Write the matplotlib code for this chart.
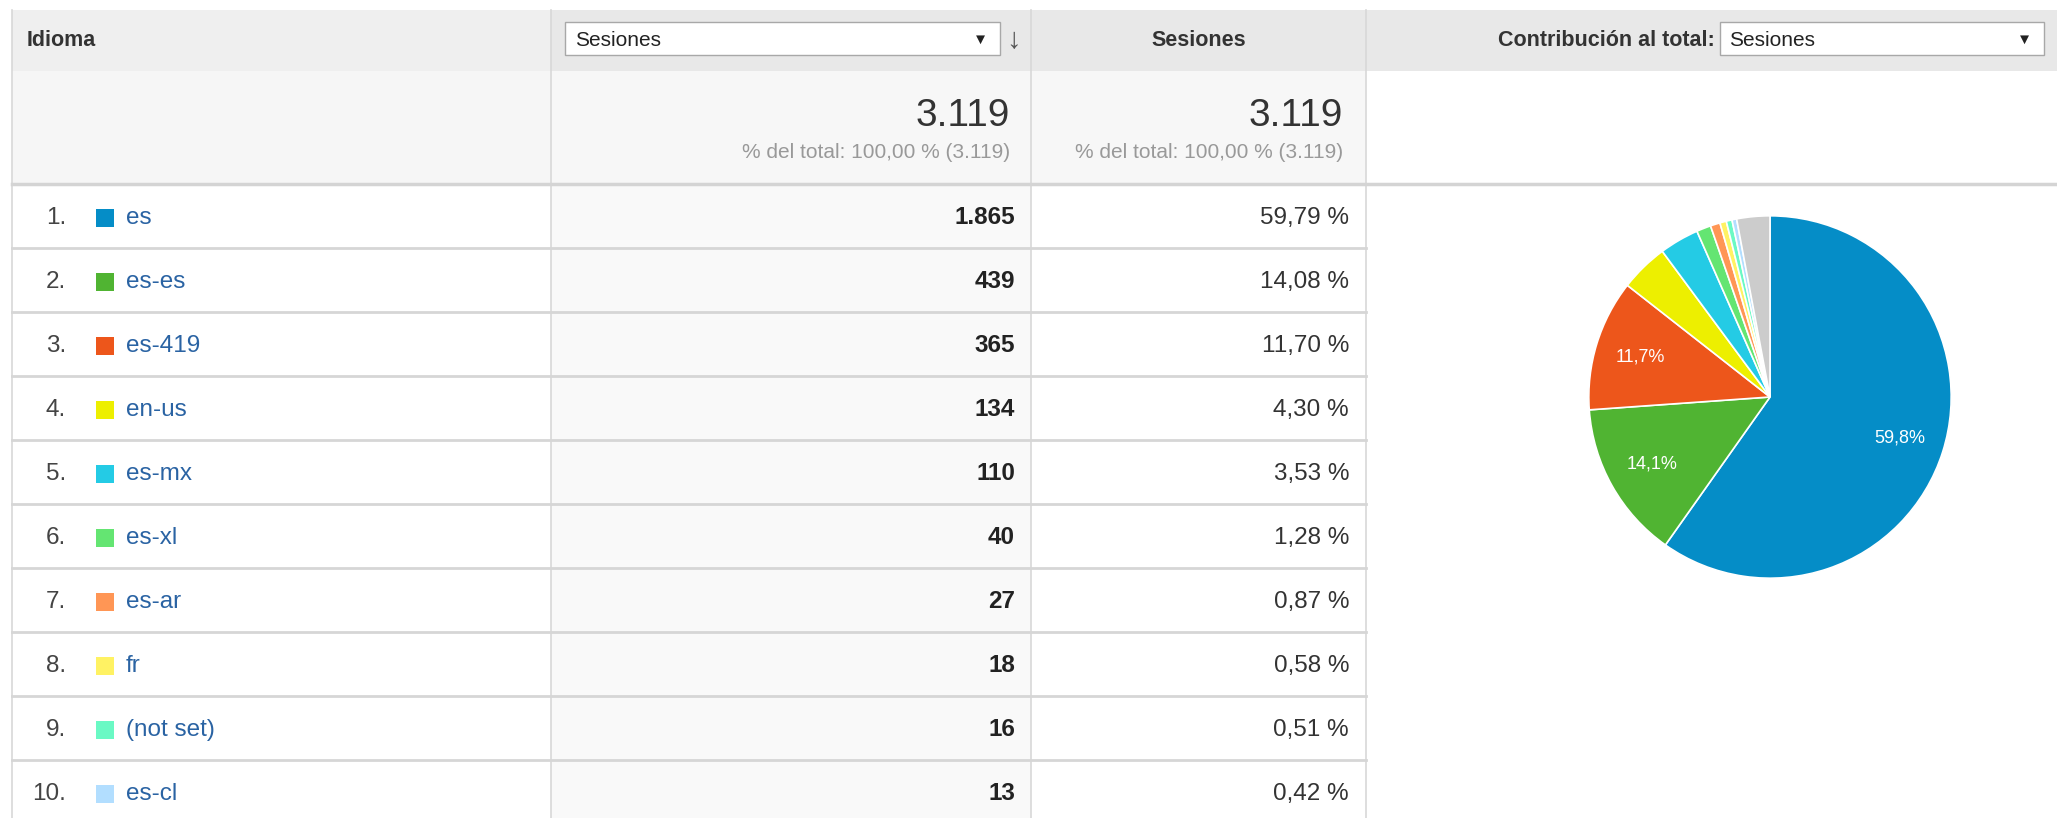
import matplotlib
matplotlib.use("Agg")
import matplotlib.pyplot as plt
from matplotlib.patches import Rectangle

# Datos de la tabla
idiomas = ["es", "es-es", "es-419", "en-us", "es-mx", "es-xl", "es-ar", "fr", "(not set)", "es-cl"]
sesiones = [1865, 439, 365, 134, 110, 40, 27, 18, 16, 13]
porcentajes = ["59,79 %", "14,08 %", "11,70 %", "4,30 %", "3,53 %",
               "1,28 %", "0,87 %", "0,58 %", "0,51 %", "0,42 %"]
total_sesiones = 3119
colores = ["#058DC7", "#50B432", "#ED561B", "#EDEF00", "#24CBE5",
           "#64E572", "#FF9655", "#FFF263", "#6AF9C4", "#B2DEFF"]
color_otros = "#CCCCCC"

FUENTE = ["Liberation Sans", "DejaVu Sans"]
plt.rcParams["font.family"] = FUENTE

W, H = 2057, 818
fig = plt.figure(figsize=(W / 100, H / 100), dpi=100)
ax = fig.add_axes([0, 0, 1, 1])
ax.set_xlim(0, W)
ax.set_ylim(H, 0)
ax.axis("off")

# Columnas (px)
x_izq, x_c1, x_c2, x_c3 = 12, 551, 1031, 1366
y_cab, y_tot, y_filas = 10, 71, 184
alto_fila = 64
linea = "#D8D8D8"


def caja(x0, y0, x1, y1, color, borde=None, lw=1):
    ax.add_patch(Rectangle((x0, y0), x1 - x0, y1 - y0, facecolor=color,
                           edgecolor=borde if borde else "none", linewidth=lw))


# Fondos de cabecera
caja(x_izq, y_cab, x_c1, y_tot, "#EFEFEF")
caja(x_c1, y_cab, W, y_tot, "#E8E8E8")
# Fila de totales
caja(x_izq, y_tot, x_c1, y_filas, "#F6F6F6")
caja(x_c1, y_tot, x_c3, y_filas, "#F7F7F7")
# Columna de sesiones en filas
caja(x_c1, y_filas, x_c2, H, "#F9F9F9")

# Lineas
for x in [x_izq, x_c1, x_c2, x_c3]:
    ax.plot([x, x], [y_cab, H], color=linea, lw=1.2)
ax.plot([x_izq, W], [y_filas, y_filas], color="#D4D4D4", lw=2.5)
for i in range(1, len(idiomas)):
    y = y_filas + alto_fila * i
    ax.plot([x_izq, x_c3], [y, y], color="#D6D6D6", lw=2)

# Cabecera
yc = 40
ax.text(27, yc, "Idioma", fontsize=15.5, fontweight="bold", color="#333333", va="center")
caja(565, 22, 1000, 55, "white", borde="#A8A8A8", lw=1)
ax.text(575, yc, "Sesiones", fontsize=15, color="#222222", va="center")
ax.text(980, yc, "▼", fontsize=11, color="#222222", va="center", ha="center")
ax.text(1013, yc, "↓", fontsize=21, fontweight="bold", color="#555555",
        va="center", ha="center")
ax.text((x_c2 + x_c3) / 2, yc, "Sesiones", fontsize=15.5, fontweight="bold",
        color="#333333", va="center", ha="center")
ax.text(1715, yc, "Contribución al total:", fontsize=15.5, fontweight="bold",
        color="#333333", va="center", ha="right")
caja(1720, 22, 2044, 55, "white", borde="#A8A8A8", lw=1)
ax.text(1729, yc, "Sesiones", fontsize=15, color="#222222", va="center")
ax.text(2024, yc, "▼", fontsize=11, color="#222222", va="center", ha="center")

# Totales
txt_total = f"{total_sesiones:,}".replace(",", ".")
sub = f"% del total: 100,00 % ({txt_total})"
for xr in [1010, 1343]:
    ax.text(xr, 116, txt_total, fontsize=28, color="#333333", va="center", ha="right")
    ax.text(xr, 152, sub, fontsize=15, color="#999999", va="center", ha="right")

# Filas
for i, (nombre, valor, pct, col) in enumerate(zip(idiomas, sesiones, porcentajes, colores)):
    y = y_filas + alto_fila * i + 34
    ax.text(66, y, f"{i + 1}.", fontsize=17.5, color="#444444", va="center", ha="right")
    ax.scatter([105], [y], marker="s", s=150, color=col, linewidths=0)
    ax.text(126, y, nombre, fontsize=17.5, color="#2A63A3", va="center")
    ax.text(1015, y, f"{valor:,}".replace(",", "."), fontsize=17.5, fontweight="bold",
            color="#222222", va="center", ha="right")
    ax.text(1349, y, pct, fontsize=17.5, color="#333333", va="center", ha="right")

# Grafico circular
cx, cy, r = 1770, 397, 183
ax_pie = fig.add_axes([(cx - r) / W, (H - cy - r) / H, 2 * r / W, 2 * r / H])
valores_pie = sesiones + [total_sesiones - sum(sesiones)]
colores_pie = colores + [color_otros]


def etiqueta(p):
    return f"{p:.1f}%".replace(".", ",") if p > 5 else ""


_, _, autotexts = ax_pie.pie(valores_pie, colors=colores_pie, startangle=90,
                             counterclock=False, autopct=etiqueta, pctdistance=0.75,
                             wedgeprops=dict(edgecolor="white", linewidth=1.2))
for t in autotexts:
    t.set_color("white")
    t.set_fontsize(13)
ax_pie.set_xlim(-1.01, 1.01)
ax_pie.set_ylim(-1.01, 1.01)
ax_pie.set_aspect("equal")

fig.savefig("out.png", dpi=100)
